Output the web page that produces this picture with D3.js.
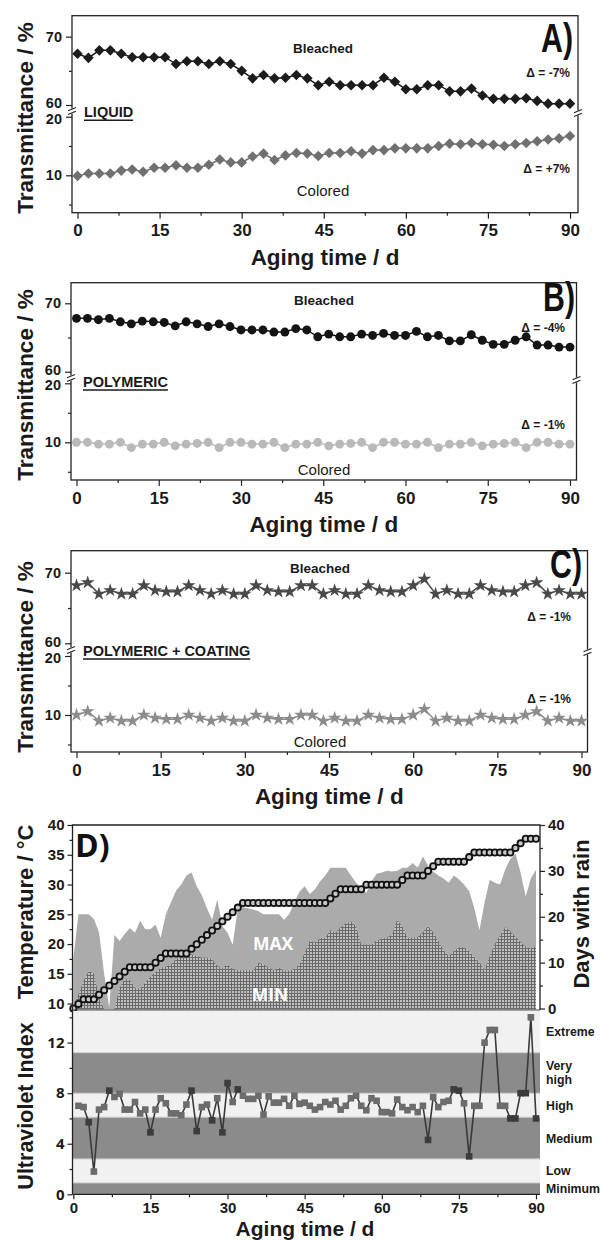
<!DOCTYPE html>
<html>
<head>
<meta charset="utf-8">
<script src="https://cdn.jsdelivr.net/npm/d3@7"></script>
<style>
  html, body { margin: 0; padding: 0; background: #ffffff; }
  svg { display: block; }
</style>
</head>
<body>
<svg id="fig" width="606" height="1240"></svg>
<script>
// ---------- transmittance data (sampled every 2 days) ----------
const sampleDays = d3.range(0, 91, 2);
const liquidBleached = [67.5,66.9,68.0,68.0,67.5,67.0,67.0,67.0,67.0,66.0,66.4,66.4,66.0,66.4,66.0,65.0,
  63.9,64.4,63.9,64.0,64.4,63.9,62.9,63.4,62.9,62.9,62.9,62.9,64.0,63.4,62.3,62.3,62.9,62.9,62.0,62.0,
  62.4,61.4,60.9,60.9,60.9,61.0,60.6,60.2,60.2,60.2];
const liquidColored = [9.9,10.3,10.3,10.3,10.8,11.0,10.6,11.3,11.3,11.7,11.3,11.3,11.8,12.7,12.2,12.2,
  13.2,13.7,12.6,13.4,13.8,13.7,13.3,13.8,13.8,14.1,13.7,14.3,14.3,14.6,14.6,14.6,14.6,15.0,15.4,15.3,
  15.5,15.3,15.2,15.0,15.3,15.5,15.8,16.1,16.3,16.7];
const polyBleached = [67.8,67.8,67.6,67.8,67.3,67.0,67.4,67.3,67.2,66.7,67.3,67.0,66.6,67.0,66.6,66.1,
  66.1,66.1,65.8,65.8,66.3,66.1,65.1,65.5,65.1,65.1,65.5,65.3,65.6,65.3,65.3,65.9,65.1,65.3,64.5,64.5,
  65.4,64.6,64.0,64.0,64.6,65.1,63.9,63.9,63.6,63.6];
const polyColored = [10.0,10.0,9.7,9.7,10.0,9.1,9.7,9.7,10.0,9.4,9.7,9.8,10.0,9.1,10.0,10.0,9.7,9.7,
  10.0,9.1,9.7,9.7,10.0,9.4,9.7,9.8,10.0,9.1,10.0,10.0,9.7,9.7,10.0,9.1,9.7,9.7,10.0,9.4,9.7,9.8,
  10.0,9.1,10.0,10.0,9.7,9.7];
const coatBleached = [68.2,68.6,67.0,67.5,67.0,67.0,68.2,67.5,67.3,67.3,68.2,67.5,67.0,67.5,67.0,67.0,
  68.2,67.5,67.3,67.3,68.2,68.2,67.0,67.5,67.0,67.0,68.2,67.5,67.3,67.3,68.2,69.1,67.0,67.5,67.0,67.0,
  68.2,67.5,67.3,67.3,68.2,68.6,67.0,67.5,67.0,67.0];
const coatColored = [10.0,10.6,9.0,9.5,9.0,9.0,10.0,9.5,9.3,9.3,10.0,9.5,9.0,9.5,9.0,9.0,10.0,9.5,
  9.3,9.3,10.0,10.0,9.0,9.5,9.0,9.0,10.0,9.5,9.3,9.3,10.0,11.0,9.0,9.5,9.0,9.0,10.0,9.5,9.3,9.3,
  10.0,10.6,9.0,9.5,9.0,9.0];

const dayTicks = [0, 15, 30, 45, 60, 75, 90];
const dayMinorTicks = [7.5, 22.5, 37.5, 52.5, 67.5, 82.5];
const upperTicks = [60, 70], upperMinor = [65];
const lowerTicks = [10, 20], lowerMinor = [5, 15];

// ---------- weather data (daily) ----------
const weatherDays = d3.range(0, 91);
const tempMax = [17.5,25,25,25,24.2,22,15,9.3,21.5,20.5,
  21.7,22.7,21.9,23.9,22.5,22.5,23.3,21,25,27,
  29,30,31.5,32,29.7,28.2,26,24.1,27.5,23,
  21.9,19.9,26,26.2,26,25.8,25.5,25,25,25,
  25,24.1,25,27,28.8,29.7,28.4,29.2,30.5,31.5,
  32.8,32.8,32.8,32.8,31.5,30.3,29.5,28.6,30.5,31.8,
  32,32.3,32.2,32.3,32.8,32.8,33.6,32.8,34.7,33.2,
  32.2,31.5,31,30.3,31.5,30.9,30,28.9,26,22.3,
  27,30.8,30.3,30,32.5,34.3,35.2,32,28,31,
  32.5];
const tempMin = [9.5,11.5,13.8,15.5,15,11,9,9,9,12.6,
  14.2,13.9,12.6,12.5,13.5,14.5,15.2,16,16.2,16.6,
  17.5,17.9,18.2,18.3,18,17.7,17.7,17.5,16.3,16,
  16.5,15.8,15.6,15.6,15.6,15.6,16.8,16.6,16,15.6,
  16,15.5,15.5,15.8,16.5,18.5,20.5,20.2,21,21,
  22.3,21.9,22.8,23.5,23.8,23,19.9,19.9,19.9,20.6,
  20.9,21.1,21.6,24.1,23,21,21,21.2,22,23,
  22,20.5,19,18,18.8,19.4,19.5,18.8,17.8,17,
  15.6,18,20,21.4,22.8,22.2,21.2,20.3,19.6,19.2,
  19.7];
const rainDays = [0,1,2,2,2,3,4,5,6,7,
  8,9,9,9,9,9,10,11,12,12,
  12,12,12,13,14,15,16,17,18,19,
  20,21,22,23,23,23,23,23,23,23,
  23,23,23,23,23,23,23,23,23,23,
  24,25,26,26,26,26,26,27,27,27,
  27,27,27,27,28,29,29,29,29,30,
  31,32,32,32,32,32,32,33,34,34,
  34,34,34,34,34,34,35,36,37,37,
  37];
const tempTicks = [10, 15, 20, 25, 30, 35, 40];
const tempMinorTicks = [12.5, 17.5, 22.5, 27.5, 32.5, 37.5];
const rainTicks = [0, 10, 20, 30, 40];
const rainMinorTicks = [5, 15, 25, 35];

// ---------- UV index (days 1..90) ----------
const uvDays = d3.range(1, 91);
const uvIndex = [7.0,6.9,5.7,1.8,6.7,6.9,8.2,7.7,7.95,6.7,
  6.7,7.3,6.4,6.7,4.9,6.7,7.6,7.2,6.4,6.4,
  6.25,7.1,8.2,5.0,6.9,7.1,5.85,7.6,4.9,8.8,
  7.3,8.3,7.8,7.55,7.55,7.8,6.3,7.75,7.25,7.25,
  7.55,7.0,7.8,7.15,7.25,7.0,6.7,6.9,7.3,7.1,
  7.4,6.7,7.0,7.6,7.8,7.0,6.65,7.6,7.4,6.5,
  6.5,6.4,7.5,6.9,6.65,6.9,6.5,7.0,4.3,7.7,
  6.9,7.3,7.4,8.3,8.2,7.2,3.0,7.0,7.0,12.0,
  13.0,13.0,7.0,7.0,6.0,6.0,8.0,8.0,14.0,6.0];
const uvBandEdges = [0, 0.9, 2.8, 6.1, 8.0, 11.2, 14.5];
const uvBandNames = ["Minimum", "Low", "Medium", "High", "Very high", "Extreme"];
const uvTicks = [0, 4, 8, 12];
const uvMinorTicks = [2, 6, 10, 14];

// ---------- drawing ----------
const svg = d3.select("#fig");
const SANS = "'Liberation Sans', Arial, Helvetica, sans-serif";
const OPEN = "'Open Sans', 'Liberation Sans', sans-serif";

svg.append("rect").attr("width", 606).attr("height", 1240).attr("fill", "#ffffff");

const defs = svg.append("defs");
const pat = defs.append("pattern").attr("id", "minGrid")
  .attr("width", 3).attr("height", 3).attr("patternUnits", "userSpaceOnUse");
pat.append("rect").attr("width", 3).attr("height", 3).attr("fill", "#bfbfbf");
pat.append("path").attr("d", "M0 0.5H3M0.5 0V3").attr("stroke", "#6a6a6a").attr("stroke-width", 1);

function styleAxis(g, size, family) {
  g.attr("font-size", size).attr("font-family", family || SANS).attr("font-weight", "bold");
  g.select(".domain").remove();
  g.selectAll(".tick line").attr("stroke", "#222").attr("stroke-width", 1.2);
  g.selectAll(".tick text").attr("fill", "#1a1a1a");
}

function breakMark(g, x, y) {
  g.append("rect").attr("x", x - 2).attr("y", y - 2.5).attr("width", 4).attr("height", 5).attr("fill", "#fff");
  [-1.8, 1.8].forEach(o => {
    g.append("line").attr("x1", x - 4).attr("y1", y + o + 1.6).attr("x2", x + 4).attr("y2", y + o - 1.6)
      .attr("stroke", "#222").attr("stroke-width", 1.1);
  });
}

function symbolPath(kind) {
  if (kind === "diamond") return d3.symbol(d3.symbolSquare, 56)();
  if (kind === "circle") return d3.symbol(d3.symbolCircle, 62)();
  return d3.symbol(d3.symbolStar, 58)();
}

function drawSeries(g, x, y, values, color, kind) {
  const line = d3.line().x((d, i) => x(sampleDays[i])).y(d => y(d));
  g.append("path").datum(values).attr("d", line).attr("fill", "none")
    .attr("stroke", color).attr("stroke-width", 1.5);
  const sym = symbolPath(kind);
  g.selectAll(null).data(values).join("path")
    .attr("d", sym)
    .attr("transform", (d, i) => `translate(${x(sampleDays[i])},${y(d)})` + (kind === "diamond" ? " rotate(45)" : ""))
    .attr("fill", color);
}

function drawTransPanel(p) {
  const g = svg.append("g");
  const x = d3.scaleLinear().domain([0, 90]).range([p.x0, p.x90]);
  const yU = d3.scaleLinear().domain([60, 70]).range([p.y60, p.y70]);
  const yL = d3.scaleLinear().domain([10, 20]).range([p.y10, p.y20]);

  g.append("rect").attr("x", p.left).attr("y", p.top)
    .attr("width", p.right - p.left).attr("height", p.bottom - p.top)
    .attr("fill", "none").attr("stroke", "#222").attr("stroke-width", 1.3);

  // axes (the 60 and 20 labels sit either side of the axis break)
  g.append("g").attr("transform", `translate(${p.left},0)`)
    .call(d3.axisLeft(yU).tickValues(upperTicks).tickSize(6).tickPadding(4).tickFormat(d3.format("d")))
    .call(a => styleAxis(a, 14.5))
    .call(a => a.selectAll(".tick text").filter(d => d === 60).attr("dy", "0.2em"));
  g.append("g").attr("transform", `translate(${p.left},0)`)
    .call(d3.axisLeft(yU).tickValues(upperMinor).tickSize(3).tickFormat(""))
    .call(a => styleAxis(a, 14.5));
  g.append("g").attr("transform", `translate(${p.left},0)`)
    .call(d3.axisLeft(yL).tickValues(lowerTicks).tickSize(6).tickPadding(4).tickFormat(d3.format("d")))
    .call(a => styleAxis(a, 14.5))
    .call(a => a.selectAll(".tick text").filter(d => d === 20).attr("dy", "0.45em"));
  g.append("g").attr("transform", `translate(${p.left},0)`)
    .call(d3.axisLeft(yL).tickValues(lowerMinor).tickSize(3).tickFormat(""))
    .call(a => styleAxis(a, 14.5));
  g.append("g").attr("transform", `translate(0,${p.bottom})`)
    .call(d3.axisBottom(x).tickValues(dayTicks).tickSize(6).tickPadding(5.5).tickFormat(d3.format("d")))
    .call(a => styleAxis(a, 17));
  g.append("g").attr("transform", `translate(0,${p.bottom})`)
    .call(d3.axisBottom(x).tickValues(dayMinorTicks).tickSize(3).tickFormat(""))
    .call(a => styleAxis(a, 17));

  breakMark(g, p.left, p.breakY);
  breakMark(g, p.right, p.breakY + 2);

  drawSeries(g, x, yL, p.colored, p.colColor, p.kind);
  drawSeries(g, x, yU, p.bleached, p.bleColor, p.kind);

  // labels
  const t = (txt, tx, ty, opt) => g.append("text").text(txt).attr("x", tx).attr("y", ty)
    .attr("font-family", SANS).attr("font-weight", opt.w || "bold").attr("font-size", opt.s)
    .attr("text-anchor", opt.a || "start").attr("fill", "#1a1a1a");
  t("Bleached", p.labelX, p.bleachedY, { s: 13.5, a: "middle" });
  t("Colored", p.labelX, p.coloredY, { s: 15, a: "middle", w: "normal" });
  t(p.dBleached, p.deltaX, p.dBleachedY, { s: 12, a: "end" });
  t(p.dColored, p.deltaX, p.dColoredY, { s: 12, a: "end" });
  const m = t(p.material, p.left + 12, p.materialY, { s: 14.5 });
  const mw = m.node().getComputedTextLength();
  g.append("line").attr("x1", p.left + 12).attr("x2", p.left + 12 + mw)
    .attr("y1", p.materialY + 3).attr("y2", p.materialY + 3).attr("stroke", "#1a1a1a").attr("stroke-width", 1.4);
  g.append("text").text(p.tag)
    .attr("transform", `translate(${p.tagX},${p.tagY}) scale(0.74,1)`)
    .attr("font-family", SANS).attr("font-weight", "bold").attr("font-size", 41)
    .attr("text-anchor", "end").attr("fill", "#111");

  // axis titles
  g.append("text").text("Transmittance / %")
    .attr("transform", `translate(${p.titleYX},${p.titleYY}) rotate(-90)`)
    .attr("font-family", SANS).attr("font-weight", "bold").attr("font-size", 22.5)
    .attr("text-anchor", "middle").attr("fill", "#1a1a1a");
  g.append("text").text("Aging time / d")
    .attr("x", (p.left + p.right) / 2).attr("y", p.bottom + 52)
    .attr("font-family", SANS).attr("font-weight", "bold").attr("font-size", 22.5)
    .attr("text-anchor", "middle").attr("fill", "#1a1a1a");
}

drawTransPanel({
  left: 72, right: 578, top: 15.7, bottom: 212.7, x0: 77.5, x90: 570,
  y70: 36.7, y60: 105, y20: 116.7, y10: 175.3, breakY: 111,
  bleached: liquidBleached, colored: liquidColored, kind: "diamond",
  bleColor: "#1c1c1c", colColor: "#707070",
  labelX: 323, bleachedY: 53, coloredY: 196,
  deltaX: 570, dBleached: "Δ = -7%", dBleachedY: 77, dColored: "Δ = +7%", dColoredY: 173,
  material: "LIQUID", materialY: 117.3, tag: "A)", tagX: 573, tagY: 52,
  titleYX: 33, titleYY: 118
});
drawTransPanel({
  left: 71, right: 576.5, top: 282.7, bottom: 480, x0: 76.5, x90: 570,
  y70: 303.3, y60: 371.7, y20: 383.3, y10: 442.3, breakY: 378,
  bleached: polyBleached, colored: polyColored, kind: "circle",
  bleColor: "#141414", colColor: "#b9b9b9",
  labelX: 324, bleachedY: 305, coloredY: 475,
  deltaX: 565, dBleached: "Δ = -4%", dBleachedY: 332, dColored: "Δ = -1%", dColoredY: 429,
  material: "POLYMERIC", materialY: 387, tag: "B)", tagX: 575, tagY: 311,
  titleYX: 33, titleYY: 385
});
drawTransPanel({
  left: 71, right: 587.5, top: 550.7, bottom: 752, x0: 76.5, x90: 581.5,
  y70: 572.7, y60: 643.3, y20: 656, y10: 715, breakY: 650,
  bleached: coatBleached, colored: coatColored, kind: "star",
  bleColor: "#4a4a4a", colColor: "#8c8c8c",
  labelX: 320, bleachedY: 573, coloredY: 746.5,
  deltaX: 571, dBleached: "Δ = -1%", dBleachedY: 621, dColored: "Δ = -1%", dColoredY: 703,
  material: "POLYMERIC + COATING", materialY: 656, tag: "C)", tagX: 582, tagY: 578,
  titleYX: 33, titleYY: 657
});

// ---------- panel D: weather ----------
const D = { left: 72.5, right: 540, top: 825, mid: 1010, bottom: 1194.3 };
const xD = d3.scaleLinear().domain([0, 90]).range([73.3, 536]);
const yT = d3.scaleLinear().domain([9, 40]).range([1009.5, 825]);
const yR = d3.scaleLinear().domain([0, 40]).range([1008.5, 825]);
const yUV = d3.scaleLinear().domain([0, 14.5]).range([D.bottom, 1011]);

defs.append("clipPath").attr("id", "clipTop").append("rect")
  .attr("x", D.left).attr("y", D.top).attr("width", D.right - D.left).attr("height", D.mid - D.top);

const gD = svg.append("g");
const gArea = gD.append("g").attr("clip-path", "url(#clipTop)");
gArea.append("path").datum(tempMax)
  .attr("d", d3.area().x((d, i) => xD(weatherDays[i])).y0(yT(9)).y1(d => yT(d)))
  .attr("fill", "#ababab");
gArea.append("path").datum(tempMin)
  .attr("d", d3.area().x((d, i) => xD(weatherDays[i])).y0(yT(9)).y1(d => yT(d)))
  .attr("fill", "url(#minGrid)");

gD.append("text").text("MAX").attr("x", 273).attr("y", 950.3).attr("text-anchor", "middle")
  .attr("font-family", OPEN).attr("font-weight", 700).attr("font-size", 17.5).attr("fill", "#ffffff");
gD.append("text").text("MIN").attr("x", 270).attr("y", 1000.5).attr("text-anchor", "middle")
  .attr("font-family", OPEN).attr("font-weight", 700).attr("font-size", 17.5).attr("fill", "#ffffff");

// cumulative rainy days
gD.append("path").datum(rainDays)
  .attr("d", d3.line().x((d, i) => xD(weatherDays[i])).y(d => yR(d)))
  .attr("fill", "none").attr("stroke", "#111").attr("stroke-width", 2);
gD.selectAll(null).data(rainDays).join("circle")
  .attr("cx", (d, i) => xD(weatherDays[i])).attr("cy", d => yR(d)).attr("r", 3.1)
  .attr("fill", "#c8c8c8").attr("stroke", "#111").attr("stroke-width", 1.8);

// frame of the weather plot
gD.append("path")
  .attr("d", `M${D.left},${D.mid}V${D.top}H${D.right}V${D.mid}`)
  .attr("fill", "none").attr("stroke", "#222").attr("stroke-width", 1.3);

gD.append("g").attr("transform", `translate(${D.left},0)`)
  .call(d3.axisLeft(yT).tickValues(tempTicks).tickSize(5).tickPadding(3).tickFormat(d3.format("d")))
  .call(a => styleAxis(a, 15));
gD.append("g").attr("transform", `translate(${D.left},0)`)
  .call(d3.axisLeft(yT).tickValues(tempMinorTicks).tickSize(3).tickFormat(""))
  .call(a => styleAxis(a, 15));
gD.append("g").attr("transform", `translate(${D.right},0)`)
  .call(d3.axisRight(yR).tickValues(rainTicks).tickSize(5).tickPadding(3).tickFormat(d3.format("d")))
  .call(a => styleAxis(a, 15));
gD.append("g").attr("transform", `translate(${D.right},0)`)
  .call(d3.axisRight(yR).tickValues(rainMinorTicks).tickSize(3).tickFormat(""))
  .call(a => styleAxis(a, 15));

gD.append("text").text("D)").attr("x", 75).attr("y", 857)
  .attr("font-family", OPEN).attr("font-weight", 700).attr("font-size", 32).attr("fill", "#111");

// UV bands
const gU = svg.append("g");
uvBandNames.forEach((name, i) => {
  const y0 = yUV(uvBandEdges[i]), y1 = yUV(uvBandEdges[i + 1]);
  gU.append("rect").attr("x", D.left).attr("y", y1).attr("width", D.right - D.left).attr("height", y0 - y1)
    .attr("fill", i % 2 === 0 ? "#8b8b8b" : "#f1f1f1");
  const cy = (y0 + y1) / 2;
  const words = name === "Very high" ? ["Very", "high"] : [name];
  words.forEach((w, k) => {
    gU.append("text").text(w).attr("x", 546)
      .attr("y", cy + 4.5 + (k - (words.length - 1) / 2) * 14)
      .attr("font-family", SANS).attr("font-weight", "bold").attr("font-size", 12.3).attr("fill", "#1a1a1a");
  });
});
uvBandEdges.slice(1, -1).forEach(e => {
  gU.append("line").attr("x1", D.left).attr("x2", D.right).attr("y1", yUV(e)).attr("y2", yUV(e))
    .attr("stroke", "#c8c8c8").attr("stroke-width", 1);
});
gU.append("line").attr("x1", D.left).attr("x2", D.right).attr("y1", D.mid).attr("y2", D.mid)
  .attr("stroke", "#444").attr("stroke-width", 1.2);

gU.append("path").datum(uvIndex)
  .attr("d", d3.line().x((d, i) => xD(uvDays[i])).y(d => yUV(d)))
  .attr("fill", "none").attr("stroke", "#3a3a3a").attr("stroke-width", 1.6);
const bandOf = v => d3.bisectRight(uvBandEdges, v) - 1;
gU.selectAll(null).data(uvIndex).join("rect")
  .attr("x", (d, i) => xD(uvDays[i]) - 3.3).attr("y", d => yUV(d) - 3.3)
  .attr("width", 6.6).attr("height", 6.6)
  .attr("fill", d => bandOf(d) % 2 === 0 ? "#3c3c3c" : "#6c6c6c");

gU.append("line").attr("x1", D.left).attr("x2", D.left).attr("y1", D.mid).attr("y2", D.bottom)
  .attr("stroke", "#222").attr("stroke-width", 1.3);
gU.append("line").attr("x1", D.left).attr("x2", D.right).attr("y1", D.bottom).attr("y2", D.bottom)
  .attr("stroke", "#222").attr("stroke-width", 1.3);

gU.append("g").attr("transform", `translate(${D.left},0)`)
  .call(d3.axisLeft(yUV).tickValues(uvTicks).tickSize(5).tickPadding(3).tickFormat(d3.format("d")))
  .call(a => styleAxis(a, 15, OPEN));
gU.append("g").attr("transform", `translate(${D.left},0)`)
  .call(d3.axisLeft(yUV).tickValues(uvMinorTicks).tickSize(3).tickFormat(""))
  .call(a => styleAxis(a, 15));
gU.append("g").attr("transform", `translate(0,${D.bottom})`)
  .call(d3.axisBottom(xD).tickValues(dayTicks).tickSize(5).tickPadding(3).tickFormat(d3.format("d")))
  .call(a => styleAxis(a, 15));
gU.append("g").attr("transform", `translate(0,${D.bottom})`)
  .call(d3.axisBottom(xD).tickValues(dayMinorTicks).tickSize(3).tickFormat(""))
  .call(a => styleAxis(a, 15));

// titles of panel D
const title = (txt, tx, ty, rot, size) => svg.append("text").text(txt)
  .attr("transform", `translate(${tx},${ty})` + (rot ? ` rotate(${rot})` : ""))
  .attr("font-family", SANS).attr("font-weight", "bold").attr("font-size", size)
  .attr("text-anchor", "middle").attr("fill", "#1a1a1a");
title("Temperature / °C", 33, 912, -90, 22);
title("Ultraviolet Index", 33, 1106, -90, 21.5);
title("Days with rain", 589, 914, -90, 22);
title("Aging time / d", 305, 1235.5, 0, 21);
</script>
</body>
</html>
